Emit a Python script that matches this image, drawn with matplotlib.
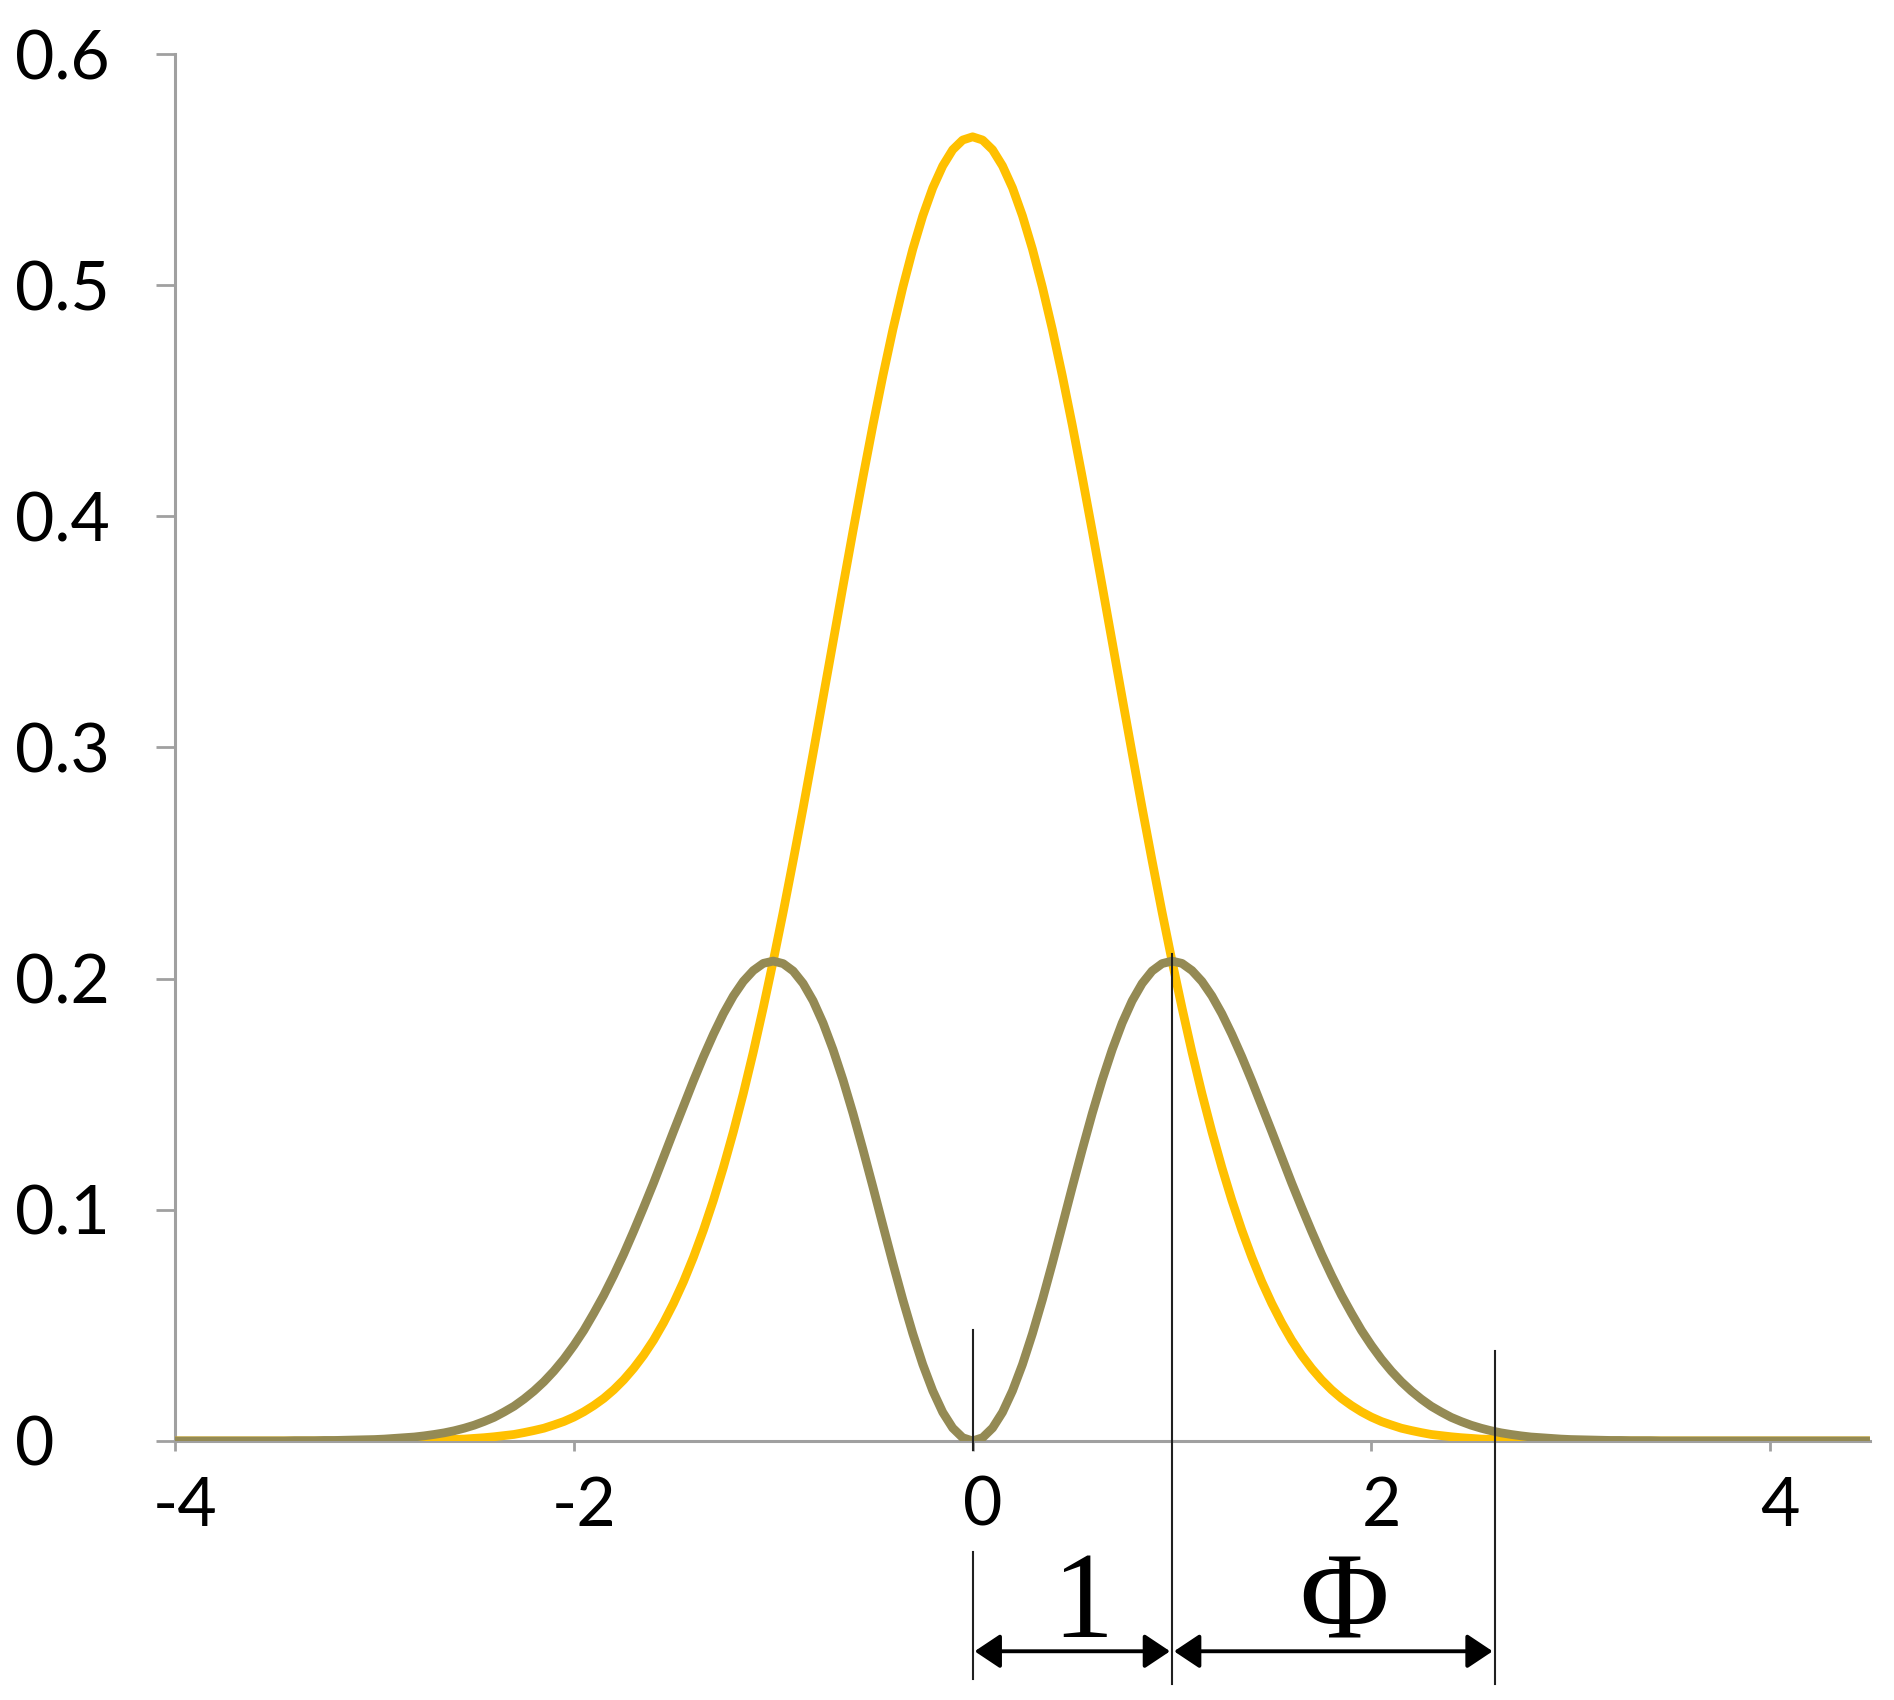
import matplotlib
matplotlib.use("Agg")
import matplotlib.pyplot as plt
import matplotlib.transforms as mtransforms

# x positions (step 0.05 from -4.00 to 4.50)
x_vals = [
    -4.00, -3.95, -3.90, -3.85, -3.80, -3.75, -3.70, -3.65, -3.60, -3.55,
    -3.50, -3.45, -3.40, -3.35, -3.30, -3.25, -3.20, -3.15, -3.10, -3.05,
    -3.00, -2.95, -2.90, -2.85, -2.80, -2.75, -2.70, -2.65, -2.60, -2.55,
    -2.50, -2.45, -2.40, -2.35, -2.30, -2.25, -2.20, -2.15, -2.10, -2.05,
    -2.00, -1.95, -1.90, -1.85, -1.80, -1.75, -1.70, -1.65, -1.60, -1.55,
    -1.50, -1.45, -1.40, -1.35, -1.30, -1.25, -1.20, -1.15, -1.10, -1.05,
    -1.00, -0.95, -0.90, -0.85, -0.80, -0.75, -0.70, -0.65, -0.60, -0.55,
    -0.50, -0.45, -0.40, -0.35, -0.30, -0.25, -0.20, -0.15, -0.10, -0.05,
    0.00,
    0.05, 0.10, 0.15, 0.20, 0.25, 0.30, 0.35, 0.40, 0.45, 0.50,
    0.55, 0.60, 0.65, 0.70, 0.75, 0.80, 0.85, 0.90, 0.95, 1.00,
    1.05, 1.10, 1.15, 1.20, 1.25, 1.30, 1.35, 1.40, 1.45, 1.50,
    1.55, 1.60, 1.65, 1.70, 1.75, 1.80, 1.85, 1.90, 1.95, 2.00,
    2.05, 2.10, 2.15, 2.20, 2.25, 2.30, 2.35, 2.40, 2.45, 2.50,
    2.55, 2.60, 2.65, 2.70, 2.75, 2.80, 2.85, 2.90, 2.95, 3.00,
    3.05, 3.10, 3.15, 3.20, 3.25, 3.30, 3.35, 3.40, 3.45, 3.50,
    3.55, 3.60, 3.65, 3.70, 3.75, 3.80, 3.85, 3.90, 3.95, 4.00,
    4.05, 4.10, 4.15, 4.20, 4.25, 4.30, 4.35, 4.40, 4.45, 4.50,
]

# yellow curve (central peak)
yellow_vals = [
    0, 0, 0, 0, 0, 0, 0, 0, 0, 0,
    0, 0, 0, 0, 0, 0, 0, 0, 0, 0,
    0.0001, 0.0001, 0.0001, 0.0002, 0.0002, 0.0003, 0.0004, 0.0005, 0.0007, 0.0008,
    0.0011, 0.0014, 0.0018, 0.0023, 0.0028, 0.0036, 0.0045, 0.0055, 0.0069, 0.0084,
    0.0103, 0.0126, 0.0153, 0.0184, 0.0221, 0.0264, 0.0314, 0.0371, 0.0436, 0.0511,
    0.0595, 0.0689, 0.0795, 0.0912, 0.1041, 0.1183, 0.1337, 0.1503, 0.1682, 0.1874,
    0.2076, 0.2288, 0.2510, 0.2739, 0.2975, 0.3215, 0.3456, 0.3698, 0.3936, 0.4169,
    0.4394, 0.4608, 0.4808, 0.4991, 0.5156, 0.5300, 0.5421, 0.5516, 0.5586, 0.5628,
    0.5642,
    0.5628, 0.5586, 0.5516, 0.5421, 0.5300, 0.5156, 0.4991, 0.4808, 0.4608, 0.4394,
    0.4169, 0.3936, 0.3698, 0.3456, 0.3215, 0.2975, 0.2739, 0.2510, 0.2288, 0.2076,
    0.1874, 0.1682, 0.1503, 0.1337, 0.1183, 0.1041, 0.0912, 0.0795, 0.0689, 0.0595,
    0.0511, 0.0436, 0.0371, 0.0314, 0.0264, 0.0221, 0.0184, 0.0153, 0.0126, 0.0103,
    0.0084, 0.0069, 0.0055, 0.0045, 0.0036, 0.0028, 0.0023, 0.0018, 0.0014, 0.0011,
    0.0008, 0.0007, 0.0005, 0.0004, 0.0003, 0.0002, 0.0002, 0.0001, 0.0001, 0.0001,
    0, 0, 0, 0, 0, 0, 0, 0, 0, 0,
    0, 0, 0, 0, 0, 0, 0, 0, 0, 0,
    0, 0, 0, 0, 0, 0, 0, 0, 0, 0,
]

# olive curve (double peak)
olive_vals = [
    0, 0, 0, 0, 0, 0, 0, 0, 0, 0,
    0, 0, 0.0001, 0.0001, 0.0001, 0.0002, 0.0002, 0.0003, 0.0004, 0.0005,
    0.0006, 0.0008, 0.0011, 0.0014, 0.0017, 0.0022, 0.0028, 0.0035, 0.0044, 0.0055,
    0.0068, 0.0084, 0.0102, 0.0125, 0.0150, 0.0181, 0.0216, 0.0256, 0.0302, 0.0354,
    0.0413, 0.0478, 0.0552, 0.0630, 0.0716, 0.0808, 0.0907, 0.1010, 0.1116, 0.1228,
    0.1339, 0.1449, 0.1558, 0.1662, 0.1759, 0.1848, 0.1925, 0.1988, 0.2035, 0.2066,
    0.2076, 0.2065, 0.2033, 0.1979, 0.1904, 0.1808, 0.1693, 0.1562, 0.1417, 0.1261,
    0.1099, 0.0933, 0.0769, 0.0611, 0.0464, 0.0331, 0.0217, 0.0124, 0.0056, 0.0014,
    0.0,
    0.0014, 0.0056, 0.0124, 0.0217, 0.0331, 0.0464, 0.0611, 0.0769, 0.0933, 0.1099,
    0.1261, 0.1417, 0.1562, 0.1693, 0.1808, 0.1904, 0.1979, 0.2033, 0.2065, 0.2076,
    0.2066, 0.2035, 0.1988, 0.1925, 0.1848, 0.1759, 0.1662, 0.1558, 0.1449, 0.1339,
    0.1228, 0.1116, 0.1010, 0.0907, 0.0808, 0.0716, 0.0630, 0.0552, 0.0478, 0.0413,
    0.0354, 0.0302, 0.0256, 0.0216, 0.0181, 0.0150, 0.0125, 0.0102, 0.0084, 0.0068,
    0.0055, 0.0044, 0.0035, 0.0028, 0.0022, 0.0017, 0.0014, 0.0011, 0.0008, 0.0006,
    0.0005, 0.0004, 0.0003, 0.0002, 0.0002, 0.0001, 0.0001, 0.0001, 0, 0,
    0, 0, 0, 0, 0, 0, 0, 0, 0, 0,
    0, 0, 0, 0, 0, 0, 0, 0, 0, 0,
]

x_ticks = [-4, -2, 0, 2, 4]
x_tick_labels = ["-4", "-2", "0", "2", "4"]
y_ticks = [0, 0.1, 0.2, 0.3, 0.4, 0.5, 0.6]
y_tick_labels = ["0", "0.1", "0.2", "0.3", "0.4", "0.5", "0.6"]

# annotation marks
mark_x = [0.0, 1.0, 2.618]
mark_labels = ["1", "Φ"]

YELLOW = "#FFC000"
OLIVE = "#948A54"
AXIS = "#A0A0A0"

fig = plt.figure(figsize=(18.94, 17.0), dpi=100)
ax = fig.add_axes([0.0924, 0.1524, 0.8949, 0.8158])

ax.plot(x_vals, yellow_vals, color=YELLOW, lw=6.3, solid_capstyle="butt",
        solid_joinstyle="round", zorder=3)
ax.plot(x_vals, olive_vals, color=OLIVE, lw=6.3, solid_capstyle="butt",
        solid_joinstyle="round", zorder=4)

ax.set_xlim(-4, 4.5)
ax.set_ylim(0, 0.6)

for s in ["top", "right"]:
    ax.spines[s].set_visible(False)
for s in ["left", "bottom"]:
    ax.spines[s].set_color(AXIS)
    ax.spines[s].set_linewidth(2.2)

ax.set_xticks(x_ticks)
ax.set_xticklabels(x_tick_labels, fontsize=49, family="Lato")
ax.set_yticks(y_ticks)
ax.set_yticklabels(y_tick_labels, fontsize=49, family="Lato")
ax.tick_params(axis="x", direction="out", length=7, width=2, color=AXIS, pad=18)
ax.tick_params(axis="y", direction="out", length=14, width=2, color=AXIS, pad=101)
for lab in ax.get_yticklabels():
    lab.set_horizontalalignment("left")
shift = mtransforms.ScaledTranslation(10 / 100, 0, fig.dpi_scale_trans)
for lab in ax.get_xticklabels():
    lab.set_transform(lab.get_transform() + shift)

# vertical marker lines
lw_mark = 1.5
mc = "#202020"
ax.plot([mark_x[0], mark_x[0]], [-0.004, 0.048], color=mc, lw=lw_mark, clip_on=False, zorder=5)
ax.plot([mark_x[0], mark_x[0]], [-0.048, -0.103], color=mc, lw=lw_mark, clip_on=False, zorder=5)
ax.plot([mark_x[1], mark_x[1]], [0.2105, -0.105], color=mc, lw=lw_mark, clip_on=False, zorder=5)
ax.plot([mark_x[2], mark_x[2]], [0.039, -0.105], color=mc, lw=lw_mark, clip_on=False, zorder=5)

# double arrows
arrow_y = -0.091
for a, b in [(mark_x[0], mark_x[1]), (mark_x[1], mark_x[2])]:
    ax.annotate("", xy=(b - 0.01, arrow_y), xytext=(a + 0.01, arrow_y),
                arrowprops=dict(arrowstyle="<|-|>,head_length=0.45,head_width=0.3",
                                color="black", lw=2.8,
                                mutation_scale=35, shrinkA=0, shrinkB=0),
                annotation_clip=False)

ax.text(0.555, -0.085, mark_labels[0], fontsize=88,
        family="Liberation Serif", ha="center", va="baseline", clip_on=False)
ax.text(1.86, -0.085, mark_labels[1], fontsize=88,
        family="Liberation Serif", ha="center", va="baseline", clip_on=False)

fig.savefig("out.png", dpi=100, facecolor="white")
